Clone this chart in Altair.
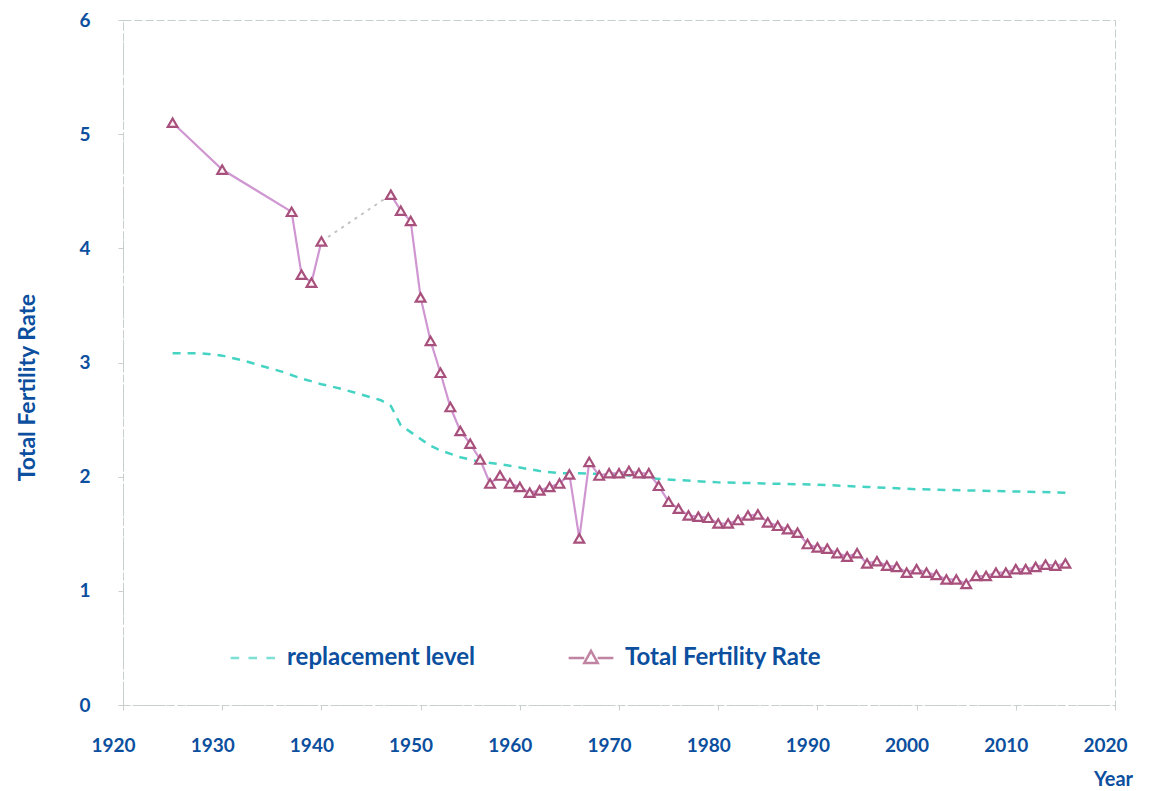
import altair as alt
import pandas as pd

BLUE = "#0b4f9e"
CYAN = "#45d3c3"
LILAC = "#cf96d2"
MAUVE = "#a8507c"
FONT = "Lato"

# Total fertility rate
tfr_years = [1925, 1930, 1937, 1938, 1939, 1940,
             1947, 1948, 1949, 1950, 1951, 1952, 1953, 1954, 1955, 1956, 1957, 1958, 1959,
             1960, 1961, 1962, 1963, 1964, 1965, 1966, 1967, 1968, 1969,
             1970, 1971, 1972, 1973, 1974, 1975, 1976, 1977, 1978, 1979,
             1980, 1981, 1982, 1983, 1984, 1985, 1986, 1987, 1988, 1989,
             1990, 1991, 1992, 1993, 1994, 1995, 1996, 1997, 1998, 1999,
             2000, 2001, 2002, 2003, 2004, 2005, 2006, 2007, 2008, 2009,
             2010, 2011, 2012, 2013, 2014, 2015]
tfr_values = [5.10, 4.69, 4.32, 3.77, 3.70, 4.06,
              4.47, 4.33, 4.24, 3.57, 3.19, 2.91, 2.61, 2.40, 2.29, 2.15, 1.94, 2.01, 1.94,
              1.91, 1.86, 1.88, 1.91, 1.94, 2.02, 1.46, 2.13, 2.01, 2.03,
              2.03, 2.05, 2.03, 2.03, 1.92, 1.78, 1.72, 1.66, 1.65, 1.64,
              1.59, 1.59, 1.62, 1.66, 1.67, 1.60, 1.57, 1.54, 1.51, 1.41,
              1.38, 1.37, 1.33, 1.30, 1.33, 1.24, 1.26, 1.22, 1.21, 1.16,
              1.19, 1.16, 1.14, 1.10, 1.10, 1.06, 1.13, 1.13, 1.16, 1.16,
              1.19, 1.19, 1.21, 1.23, 1.22, 1.24]

# Replacement level
rep_years = [1925, 1928, 1930, 1932, 1934, 1936, 1938, 1940, 1942, 1944, 1946, 1947,
             1948, 1949, 1950, 1951, 1952, 1954, 1956, 1958, 1960, 1962, 1964, 1966,
             1970, 1974, 1976, 1980, 1985, 1990, 1995, 2000, 2005, 2010, 2015]
rep_values = [3.08, 3.08, 3.06, 3.02, 2.97, 2.92, 2.86, 2.81, 2.77, 2.72, 2.67, 2.62,
              2.45, 2.39, 2.33, 2.27, 2.23, 2.17, 2.13, 2.11, 2.08, 2.05, 2.03, 2.03,
              2.02, 1.98, 1.97, 1.95, 1.94, 1.93, 1.91, 1.89, 1.88, 1.87, 1.86]

series_names = ["replacement level", "Total Fertility Rate"]
x_ticks = list(range(1920, 2021, 10))
y_ticks = [0, 1, 2, 3, 4, 5, 6]

tfr = pd.DataFrame({"year": tfr_years, "tfr": tfr_values})
tfr["seg"] = ["prewar" if y <= 1940 else "postwar" for y in tfr_years]
gap = tfr[tfr["year"].isin([1940, 1947])]
rep = pd.DataFrame({"year": rep_years, "rep": rep_values})
leg = pd.DataFrame({"series": series_names})

x_scale = alt.Scale(domain=[1920, 2020], nice=False, zero=False)
y_scale = alt.Scale(domain=[0, 6], nice=False)

x_axis = alt.Axis(values=x_ticks, format="d", grid=False, title="Year",
                  labelPadding=26, labelOffset=-10, labelFlush=False, tickSize=5,
                  titleX=990, titleY=74, titleAlign="center", titleBaseline="middle")
y_axis = alt.Axis(values=y_ticks, format="d", grid=False, title="Total Fertility Rate",
                  labelPadding=28, tickSize=5, labelFontSize=19,
                  titleX=-96, titleY=367, titleAlign="center", titleBaseline="middle",
                  titleFontSize=23)

rep_line = alt.Chart(rep).mark_line(color=CYAN, strokeWidth=2.5, strokeDash=[8, 7]).encode(
    x=alt.X("year:Q", scale=x_scale, axis=x_axis),
    y=alt.Y("rep:Q", scale=y_scale, axis=y_axis),
)

tfr_line = alt.Chart(tfr).mark_line(color=LILAC, strokeWidth=2.2).encode(
    x=alt.X("year:Q", scale=x_scale),
    y=alt.Y("tfr:Q", scale=y_scale),
    detail="seg:N",
)

gap_line = alt.Chart(gap).mark_line(color="#c4c4c4", strokeWidth=2, strokeDash=[3, 5]).encode(
    x=alt.X("year:Q", scale=x_scale),
    y=alt.Y("tfr:Q", scale=y_scale),
)

tfr_pts = alt.Chart(tfr).mark_point(shape="triangle-up", filled=True, fill="#fdf3f7",
                                    stroke=MAUVE, strokeWidth=2.2, size=95, opacity=1).encode(
    x=alt.X("year:Q", scale=x_scale),
    y=alt.Y("tfr:Q", scale=y_scale),
)

legend = alt.Legend(orient="none", legendX=106, legendY=614, direction="horizontal",
                    title=None, labelFont=FONT, labelFontSize=24, labelFontWeight="bold",
                    labelColor=BLUE, labelLimit=0, symbolSize=2000, symbolStrokeWidth=2.5,
                    labelOffset=10, columnPadding=88, symbolFillColor="#fdf3f7")

paths = ["M-1,0L-0.62,0M-0.2,0L0.18,0M0.6,0L0.98,0",
         "M-1,0L-0.3,0M0.3,0L1,0M0,-0.32L0.3,0.22L-0.3,0.22Z"]

legend_layer = alt.Chart(leg).mark_point(filled=False, strokeWidth=2.5).encode(
    color=alt.Color("series:N", scale=alt.Scale(domain=series_names, range=[CYAN, MAUVE]),
                    legend=legend),
    shape=alt.Shape("series:N", scale=alt.Scale(domain=series_names, range=paths),
                    legend=legend),
).transform_filter("false")

chart = alt.layer(rep_line, gap_line, tfr_line, tfr_pts, legend_layer).properties(
    width=992, height=685,
    padding={"left": 115, "top": 12, "right": 25, "bottom": 86},
    autosize=alt.AutoSizeParams(type="none"),
).configure_view(
    stroke="#c5d0cc", strokeWidth=1, strokeDash=[8, 3],
).configure_axis(
    labelFont=FONT, labelFontSize=19, labelFontWeight="bold", labelColor=BLUE,
    titleFont=FONT, titleFontSize=20, titleFontWeight="bold", titleColor=BLUE,
    domainColor="#c9cfcc", domainDash=[6, 3], tickColor="#c9cfcc",
)

chart.save("out.html", embed_options={"renderer": "svg", "actions": False})
